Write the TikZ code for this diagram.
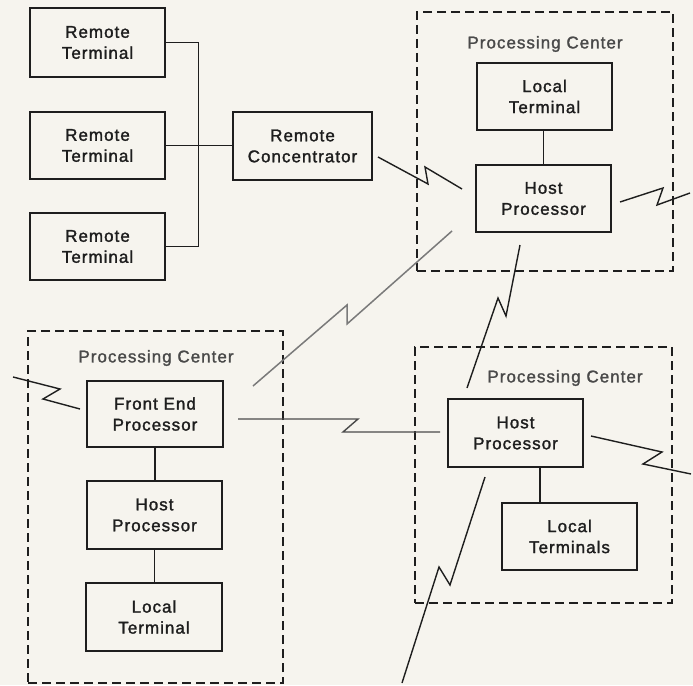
\documentclass[tikz,border=0pt]{standalone}
\usepackage{fontspec}
\setmainfont{Liberation Sans}[LetterSpace=6,FakeBold=1.6]
\usetikzlibrary{calc}
\definecolor{bg}{HTML}{F6F4EE}
\definecolor{ink}{HTML}{1E1E1E}
\definecolor{inkl}{HTML}{4A4A4A}
\definecolor{grayline}{HTML}{7A7A7A}
\begin{document}
\begin{tikzpicture}[x=1pt,y=-1pt,
  box/.style={draw=ink,line width=1.4pt,inner sep=0pt,align=center,
    font=\fontsize{17}{21}\selectfont,text=ink,
    minimum width=135pt,minimum height=67pt},
  pcbox/.style={draw=ink,line width=1.4pt,dash pattern=on 9pt off 5pt,inner sep=0pt},
  pclabel/.style={font=\fontsize{17}{21}\selectfont,text=inkl,inner sep=0pt},
  wire/.style={draw=ink,line width=1.3pt},
  zig/.style={draw=ink,line width=1.4pt,line join=miter},
  zigg/.style={draw=grayline,line width=1.5pt,line join=miter}]
\fill[bg] (0,0) rectangle (693,685);
\useasboundingbox (0,0) rectangle (693,685);

% dashed processing centers
\node[pcbox,minimum width=256pt,minimum height=259pt] (pctr) at (545,141.5) {};
\node[pcbox,minimum width=255pt,minimum height=352pt] (pcl) at (155.5,507) {};
\node[pcbox,minimum width=257pt,minimum height=256pt] (pcbr) at (543.5,475) {};
\node[pclabel] (ltr) at (545,44) {Processing Center};
\node[pclabel] (ll) at (156,358) {Processing Center};
\node[pclabel] (lbr) at (565,378) {Processing Center};

% remote side
\node[box,minimum height=69pt] (rt1) at (97.5,42.5) {Remote\\Terminal};
\node[box] (rt2) at (97.5,145.5) {Remote\\Terminal};
\node[box] (rt3) at (97.5,246.5) {Remote\\Terminal};
\node[box,minimum width=139pt,minimum height=68pt] (rc) at (302.5,146) {Remote\\Concentrator};

% top right center
\node[box] (lt1) at (544.5,96.5) {Local\\Terminal};
\node[box] (hp1) at (543.5,198.5) {Host\\Processor};

% left center
\node[box,minimum width=136pt,minimum height=66pt] (fep) at (155,414) {Front End\\Processor};
\node[box,minimum height=68pt] (hp2) at (154.5,515) {Host\\Processor};
\node[box,minimum width=136pt,minimum height=68pt] (lt2) at (154,617) {Local\\Terminal};

% bottom right center
\node[box,minimum height=68pt] (hp3) at (515.5,433) {Host\\Processor};
\node[box] (lt3) at (569.5,536.5) {Local\\Terminals};

% local wires
\draw[wire] (rt1.east) -- ++(33,0) coordinate (bt) |- (rt3.east);
\draw[wire] (rt2.east) -- (rt2.east -| rc.west);
\draw[wire] (lt1.south -| hp1.north) -- (hp1.north);
\draw[wire] (fep.south) -- (fep.south |- hp2.north);
\draw[wire] (hp2.south) -- (hp2.south |- lt2.north);
\draw[wire] ([xshift=24.5pt]hp3.south) -- ([xshift=24.5pt]hp3.south |- lt3.north);

% lightning links (free ends as named coordinates)
\coordinate (a0) at (378,157); \coordinate (a1) at (428,184); \coordinate (a2) at (425,167); \coordinate (a3) at (462,189);
\draw[zig] (a0) -- (a1) -- (a2) -- (a3);
\coordinate (b0) at (620,202); \coordinate (b1) at (663,188); \coordinate (b2) at (657,205); \coordinate (b3) at (690,193);
\draw[zig] (b0) -- (b1) -- (b2) -- (b3);
\coordinate (c0) at (253,386); \coordinate (c1) at (347,305); \coordinate (c2) at (347,324); \coordinate (c3) at (452,231);
\draw[zigg] (c0) -- (c1) -- (c2) -- (c3);
\coordinate (d0) at (520,245); \coordinate (d1) at (506,316); \coordinate (d2) at (498,298); \coordinate (d3) at (467,388);
\draw[zig] (d0) -- (d1) -- (d2) -- (d3);
\coordinate (e0) at (13,377); \coordinate (e1) at (60,389); \coordinate (e2) at (43,399); \coordinate (e3) at (80,409);
\draw[zig] (e0) -- (e1) -- (e2) -- (e3);
\coordinate (f0) at (238,419); \coordinate (f1) at (358,419); \coordinate (f2) at (343,432); \coordinate (f3) at (440,432);
\draw[zig,draw=inkl] (f0) -- (f1) -- (f2) -- (f3);
\coordinate (g0) at (591,436); \coordinate (g1) at (662,452); \coordinate (g2) at (643,464); \coordinate (g3) at (691,474);
\draw[zig] (g0) -- (g1) -- (g2) -- (g3);
\coordinate (h0) at (485,477); \coordinate (h1) at (450,585); \coordinate (h2) at (439,567); \coordinate (h3) at (402,683);
\draw[zig] (h0) -- (h1) -- (h2) -- (h3);
\end{tikzpicture}
\end{document}
